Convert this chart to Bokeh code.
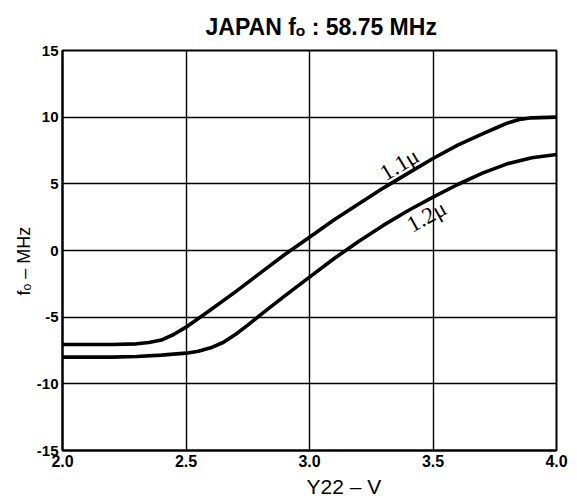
from bokeh.plotting import figure
from bokeh.models import Range1d, FixedTicker, Title, NumeralTickFormatter, ColumnDataSource
from bokeh.core.properties import value
from bokeh.embed import file_html
from bokeh.resources import INLINE

# ---- data ----
x_11 = [2.0, 2.1, 2.2, 2.3, 2.35, 2.4, 2.45, 2.5, 2.55, 2.6, 2.7, 2.8, 2.9, 3.0,
        3.1, 3.2, 3.3, 3.4, 3.5, 3.6, 3.7, 3.75, 3.8, 3.85, 3.9, 4.0]
y_11 = [-7.05, -7.05, -7.05, -7.0, -6.9, -6.72, -6.3, -5.75, -5.1, -4.45, -3.1, -1.7, -0.3, 1.0,
        2.3, 3.5, 4.7, 5.8, 6.9, 7.9, 8.75, 9.15, 9.55, 9.82, 9.95, 10.0]
x_12 = [2.0, 2.1, 2.2, 2.3, 2.4, 2.5, 2.55, 2.6, 2.65, 2.7, 2.75, 2.8, 2.9, 3.0,
        3.1, 3.2, 3.3, 3.4, 3.5, 3.6, 3.7, 3.8, 3.9, 4.0]
y_12 = [-8.0, -8.0, -8.0, -7.95, -7.85, -7.7, -7.55, -7.3, -6.9, -6.3, -5.6, -4.85, -3.4, -2.0,
        -0.6, 0.7, 1.9, 3.0, 4.0, 4.95, 5.8, 6.5, 6.95, 7.2]
x_ticks = [2.0, 2.5, 3.0, 3.5, 4.0]
y_ticks = [-15, -10, -5, 0, 5, 10, 15]
curve_names = ["1.1\u03bc", "1.2\u03bc"]
curve_label_x = [3.364, 3.474]
curve_label_y = [6.45, 2.55]
curve_label_angle = [31, 29]
title_text = "JAPAN f\u2092 : 58.75 MHz"
x_label = "Y22 \u2013 V"
y_label = "f\u2092 \u2013 MHz"

p = figure(frame_width=494, frame_height=400,
           x_range=Range1d(2, 4), y_range=Range1d(-15, 15),
           output_backend="svg", toolbar_location=None,
           min_border_left=62, min_border_right=21,
           min_border_top=50, min_border_bottom=51)
p.background_fill_color = "white"
p.border_fill_color = "white"
p.outline_line_color = "black"
p.outline_line_width = 2

for ax in (p.xaxis[0], p.yaxis[0]):
    ax.major_tick_in = 0
    ax.major_tick_out = 0
    ax.minor_tick_in = 0
    ax.minor_tick_out = 0
    ax.axis_line_color = "black"
    ax.axis_line_width = 2
    ax.major_label_text_font = "Liberation Sans"
    ax.major_label_text_font_style = "bold"
    ax.major_label_text_color = "black"

p.xaxis.ticker = FixedTicker(ticks=x_ticks)
p.xaxis.formatter = NumeralTickFormatter(format="0.0")
p.xaxis.major_label_text_font_size = "16px"
p.xaxis.major_label_standoff = 4
p.yaxis.ticker = FixedTicker(ticks=y_ticks)
p.yaxis.formatter = NumeralTickFormatter(format="0")
p.yaxis.major_label_text_font_size = "15px"
p.yaxis.major_label_standoff = 4

p.xgrid.grid_line_color = "black"
p.xgrid.grid_line_width = 1.4
p.ygrid.grid_line_color = "black"
p.ygrid.grid_line_width = 1.4

p.line(x_11, y_11, line_width=3.6, line_color="black", line_join="round")
p.line(x_12, y_12, line_width=3.6, line_color="black", line_join="round")

src = ColumnDataSource(dict(x=curve_label_x, y=curve_label_y, t=curve_names, a=curve_label_angle))
p.text(x="x", y="y", text="t", angle="a", angle_units="deg", source=src,
       text_font=value("Liberation Serif"), text_font_size="23px",
       text_align="center", text_baseline="middle", text_color="black")

p.add_layout(Title(text=title_text, align="left", offset=143, standoff=22,
                   text_font="Liberation Sans", text_font_size="23px",
                   text_font_style="bold", text_color="black"), "above")
p.add_layout(Title(text=x_label, align="left", offset=244, standoff=6,
                   text_font="Liberation Sans", text_font_size="21px",
                   text_font_style="normal", text_color="black"), "below")
p.add_layout(Title(text=y_label, align="left", offset=155, standoff=0,
                   text_font="Liberation Sans", text_font_size="18px",
                   text_font_style="normal", text_color="black"), "left")

open("out.html", "w").write(file_html(p, INLINE))
